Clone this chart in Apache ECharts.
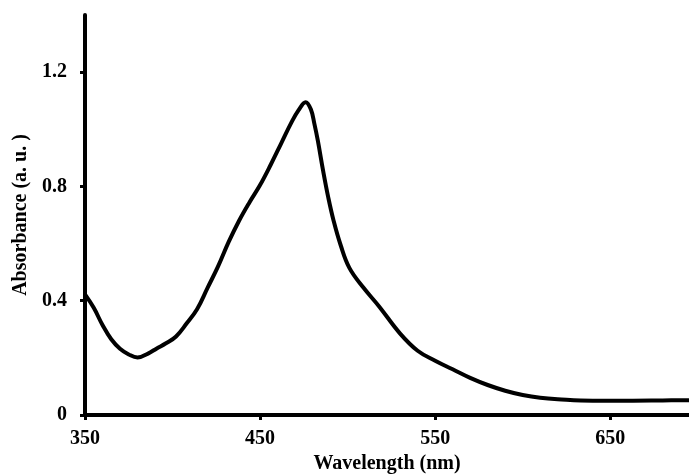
<!DOCTYPE html>
<html>
<head>
<meta charset="utf-8">
<script src="https://cdn.jsdelivr.net/npm/echarts@6/dist/echarts.min.js"></script>
<style>
  html, body { margin: 0; padding: 0; background: #fff; }
  #chart { width: 689px; height: 474px; }
</style>
</head>
<body>
<div id="chart"></div>
<script>
// wavelength (nm) and absorbance
var wavelength = [350, 355, 360, 365, 370, 375, 380, 386, 391, 396, 402, 408, 414, 420, 426, 432, 438, 444, 450, 456, 462, 468, 472, 476, 479, 481, 483, 486, 489, 492, 496, 501, 509, 518, 530, 540, 550, 560, 570, 580, 590, 600, 610, 620, 640, 660, 680, 695];
var absorbance = [0.422, 0.375, 0.315, 0.265, 0.232, 0.212, 0.201, 0.215, 0.233, 0.25, 0.275, 0.32, 0.37, 0.445, 0.52, 0.605, 0.68, 0.745, 0.805, 0.875, 0.95, 1.025, 1.067, 1.095, 1.07, 1.02, 0.96, 0.855, 0.76, 0.68, 0.595, 0.515, 0.446, 0.38, 0.285, 0.225, 0.19, 0.16, 0.13, 0.105, 0.085, 0.07, 0.06, 0.055, 0.05, 0.05, 0.051, 0.052];

var xTicks = [350, 450, 550, 650];
var yTicks = [0, 0.4, 0.8, 1.2];

var font = 'Liberation Serif';

var seriesData = wavelength.map(function (w, i) {
    return [w, absorbance[i]];
});

var option = {
    animation: false,
    backgroundColor: '#fff',
    grid: { left: 85, right: 0, top: 15, bottom: 59, outerBoundsMode: 'none', containLabel: false },
    xAxis: {
        type: 'value',
        min: 350,
        max: 695,
        interval: 100,
        name: 'Wavelength (nm)',
        nameLocation: 'middle',
        nameGap: 38,
        nameTextStyle: { fontFamily: font, fontWeight: 'bold', fontSize: 20, color: '#000' },
        axisLine: { show: true, onZero: false, lineStyle: { color: '#000', width: 4 } },
        axisTick: { show: true, length: 5, lineStyle: { color: '#000', width: 3 } },
        splitLine: { show: false },
        axisLabel: {
            margin: 14,
            showMaxLabel: false,
            fontFamily: font, fontWeight: 'bold', fontSize: 20, color: '#000',
            formatter: function (v) { return xTicks.indexOf(v) >= 0 ? String(v) : ''; }
        }
    },
    yAxis: {
        type: 'value',
        min: 0,
        max: 1.4,
        interval: 0.4,
        name: 'Absorbance (a. u. )',
        nameLocation: 'middle',
        nameGap: 52,
        nameTextStyle: { fontFamily: font, fontWeight: 'bold', fontSize: 20, color: '#000' },
        axisLine: { show: true, lineStyle: { color: '#000', width: 4 } },
        axisTick: { show: true, length: 5, lineStyle: { color: '#000', width: 3 } },
        splitLine: { show: false },
        axisLabel: {
            margin: 18,
            showMaxLabel: false,
            fontFamily: font, fontWeight: 'bold', fontSize: 20, color: '#000',
            formatter: function (v) {
                var t = yTicks.find(function (k) { return Math.abs(k - v) < 1e-6; });
                return t === undefined ? '' : (t === 0 ? '0' : t.toFixed(1));
            }
        }
    },
    series: [{
        type: 'line',
        data: seriesData,
        smooth: 0.4,
        showSymbol: false,
        lineStyle: { color: '#000', width: 4 }
    }]
};

var myChart = echarts.init(document.getElementById('chart'));
myChart.setOption(option);
</script>
</body>
</html>
